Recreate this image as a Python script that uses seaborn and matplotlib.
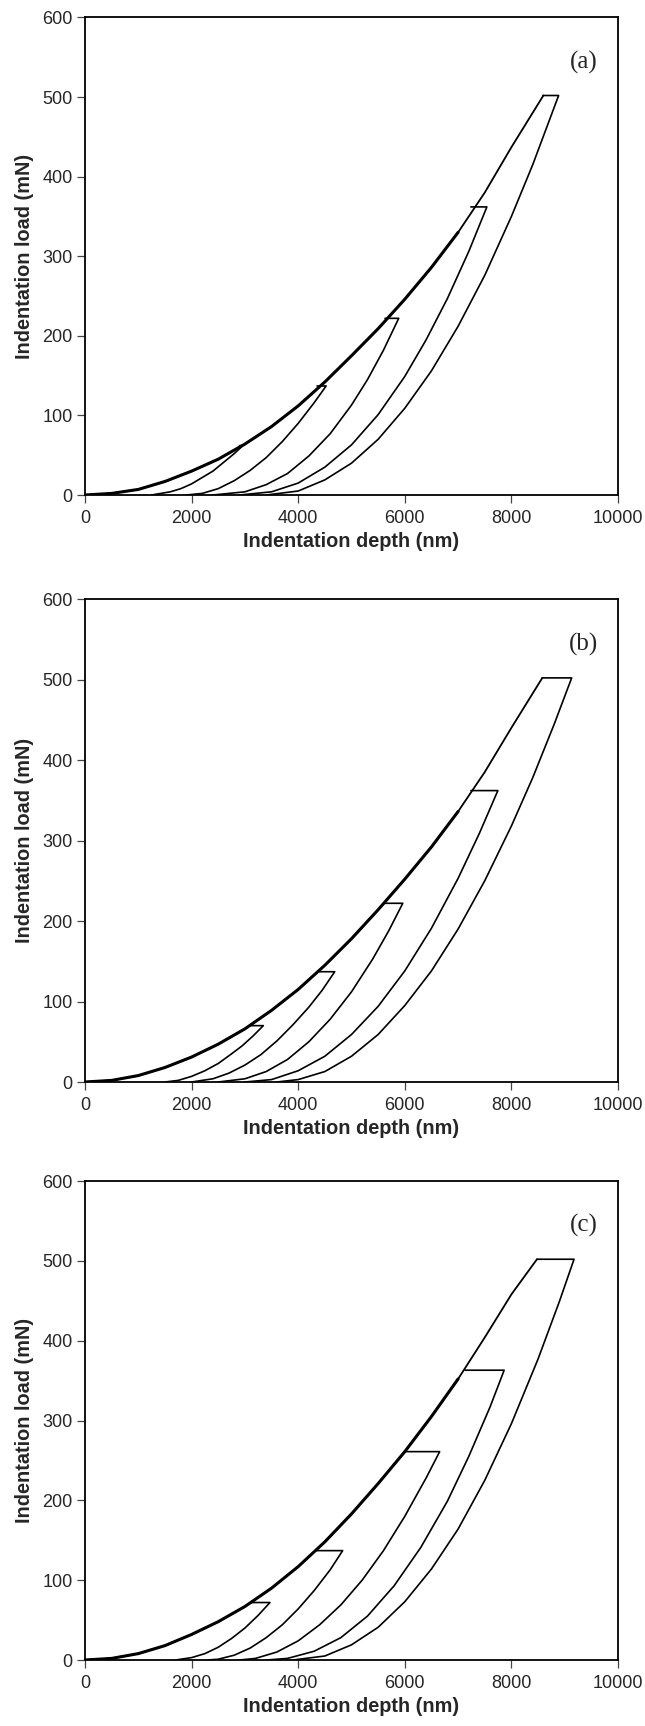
import numpy as np
import pandas as pd
import matplotlib
matplotlib.use("Agg")
import matplotlib.pyplot as plt
import seaborn as sns

# ---------------------------------------------------------------
# data: depth (nm) / load (mN)
# ---------------------------------------------------------------
# panel (a)
a_load_depth = [0, 500, 1000, 1500, 2000, 2500, 3000, 3500, 4000, 4500, 5000, 5500, 6000, 6500, 7000, 7500, 8000, 8600]
a_load_force = [0, 2, 7, 17, 30, 45, 64, 86, 112, 142, 175, 209, 246, 286, 330, 380, 437, 502]
a_hold_start = [2900, 4354, 5630, 7240, 8592]
a_peak = [62, 137, 222, 362, 502]
a_unload_depth = [
    [2960, 2800, 2600, 2400, 2200, 2000, 1800, 1600, 1250],
    [4524, 4300, 4000, 3700, 3400, 3100, 2800, 2500, 2200, 1900],
    [5886, 5600, 5300, 5000, 4600, 4200, 3800, 3400, 3000, 2400],
    [7540, 7200, 6800, 6400, 6000, 5500, 5000, 4500, 4000, 3500, 2900],
    [8886, 8400, 8000, 7500, 7000, 6500, 6000, 5500, 5000, 4500, 4000, 3400],
]
a_unload_force = [
    [62, 52, 41, 30, 22, 14, 8, 4, 0],
    [137, 116, 90, 67, 47, 31, 18, 8, 2, 0],
    [222, 182, 145, 113, 77, 49, 27, 13, 4, 0],
    [362, 306, 247, 195, 149, 101, 63, 35, 15, 4, 0],
    [502, 415, 350, 276, 212, 156, 109, 70, 40, 19, 5, 0],
]

# panel (b)
b_load_depth = [0, 500, 1000, 1500, 2000, 2500, 3000, 3500, 4000, 4500, 5000, 5500, 6000, 6500, 7000, 7500, 8000, 8580]
b_load_force = [0, 2, 8, 18, 31, 47, 66, 89, 115, 145, 178, 214, 252, 292, 336, 385, 440, 502]
b_hold_start = [3100, 4370, 5610, 7240, 8580]
b_peak = [70, 137, 222, 362, 502]
b_unload_depth = [
    [3346, 3150, 2950, 2750, 2500, 2250, 2000, 1750, 1500],
    [4685, 4450, 4200, 3900, 3600, 3300, 3000, 2700, 2400, 2000],
    [5962, 5700, 5400, 5000, 4600, 4200, 3800, 3400, 3000, 2500],
    [7746, 7400, 7000, 6500, 6000, 5500, 5000, 4500, 4000, 3500, 3000],
    [9131, 8800, 8400, 8000, 7500, 7000, 6500, 6000, 5500, 5000, 4500, 4000, 3600],
]
b_unload_force = [
    [70, 57, 45, 35, 23, 14, 7, 2, 0],
    [137, 114, 93, 71, 51, 34, 21, 11, 4, 0],
    [222, 188, 153, 112, 78, 50, 28, 13, 4, 0],
    [362, 309, 253, 191, 138, 94, 59, 32, 14, 3, 0],
    [502, 444, 378, 318, 250, 190, 138, 95, 59, 32, 13, 3, 0],
]

# panel (c)
c_load_depth = [0, 500, 1000, 1500, 2000, 2500, 3000, 3500, 4000, 4500, 5000, 5500, 6000, 6500, 7000, 7500, 8000, 8480]
c_load_force = [0, 2, 8, 18, 32, 48, 67, 90, 117, 148, 183, 221, 261, 305, 352, 404, 458, 502]
c_hold_start = [3123, 4318, 6014, 7132, 8481]
c_peak = [72, 137, 261, 363, 502]
c_unload_depth = [
    [3470, 3250, 3000, 2750, 2500, 2250, 2000, 1700],
    [4834, 4600, 4300, 4000, 3700, 3400, 3100, 2800, 2500, 2300],
    [6654, 6400, 6000, 5600, 5200, 4800, 4400, 4000, 3600, 3200, 2900],
    [7864, 7600, 7200, 6800, 6300, 5800, 5300, 4800, 4300, 3800, 3400],
    [9175, 8900, 8500, 8000, 7500, 7000, 6500, 6000, 5500, 5000, 4500, 3900],
]
c_unload_force = [
    [72, 56, 40, 27, 16, 8, 3, 0],
    [137, 113, 87, 64, 44, 28, 15, 6, 1, 0],
    [261, 228, 180, 137, 100, 69, 44, 24, 10, 2, 0],
    [363, 317, 255, 199, 141, 93, 55, 28, 11, 2, 0],
    [502, 449, 377, 296, 225, 164, 114, 73, 41, 19, 5, 0],
]

panel_tags = ["(a)", "(b)", "(c)"]
x_ticks = [0, 2000, 4000, 6000, 8000, 10000]
y_ticks = [0, 100, 200, 300, 400, 500, 600]

# ---------------------------------------------------------------
sns.set_style("ticks")
plt.rcParams['font.family'] = ['Liberation Sans', 'DejaVu Sans']

fig = plt.figure(figsize=(6.45, 17.26), dpi=100)
# axes boxes in pixels: (top, bottom)
ax_rows = [(17.5, 495), (599, 1082), (1181, 1660)]

panels = [
    (a_load_depth, a_load_force, a_hold_start, a_peak, a_unload_depth, a_unload_force),
    (b_load_depth, b_load_force, b_hold_start, b_peak, b_unload_depth, b_unload_force),
    (c_load_depth, c_load_force, c_hold_start, c_peak, c_unload_depth, c_unload_force),
]

for i, (ld, lf, hs, pk, ud, uf) in enumerate(panels):
    top, bot = ax_rows[i]
    ax = fig.add_axes([85 / 645, 1 - bot / 1726, 533 / 645, (bot - top) / 1726])

    # loading curve (several overlapping loadings -> thicker lower part)
    load_df = pd.DataFrame({"depth": ld, "load": lf})
    sns.lineplot(data=load_df, x="depth", y="load", sort=False, estimator=None,
                 color="black", linewidth=1.3, ax=ax)
    low_df = load_df[load_df["load"] <= pk[3]]
    sns.lineplot(data=low_df, x="depth", y="load", sort=False, estimator=None,
                 color="black", linewidth=2.2, ax=ax)

    # hold + unloading for each cycle
    for j in range(len(pk)):
        cyc_df = pd.DataFrame({"depth": [hs[j]] + ud[j], "load": [pk[j]] + uf[j]})
        sns.lineplot(data=cyc_df, x="depth", y="load", sort=False, estimator=None,
                     color="black", linewidth=1.2, ax=ax)

    ax.set_xlim(0, 10000)
    ax.set_ylim(0, 600)
    ax.set_xticks(x_ticks)
    ax.set_yticks(y_ticks)
    ax.tick_params(direction="out", length=5.5, width=0.9, color="#444444",
                   labelsize=13)
    ax.tick_params(axis="x", pad=5)
    ax.tick_params(axis="y", pad=3.5)
    for sp in ax.spines.values():
        sp.set_visible(True)
        sp.set_linewidth(1.3)
        sp.set_color("black")
    ax.set_xlabel("Indentation depth (nm)", fontsize=14.3, fontweight="bold", labelpad=4)
    ax.set_ylabel("Indentation load (mN)", fontsize=14.3, fontweight="bold", labelpad=6)
    ax.text(9350, 544, panel_tags[i], ha="center", va="center",
            fontsize=18, family=["Liberation Serif", "DejaVu Serif"])

fig.savefig("out.png", dpi=100)
